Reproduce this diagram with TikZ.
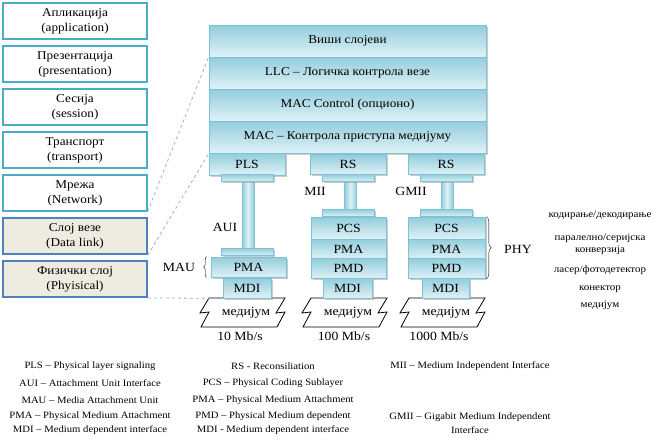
\documentclass[tikz,border=0pt]{standalone}
\usepackage{fontspec}
\setmainfont{Liberation Serif}[FakeStretch=1.1]
\usetikzlibrary{decorations.pathreplacing,shadows,backgrounds}
\definecolor{osiline}{RGB}{75,172,198}
\definecolor{osiblue}{RGB}{79,129,189}
\definecolor{osifill}{RGB}{238,236,225}
\definecolor{cyandark}{RGB}{146,205,220}
\definecolor{cyanlight}{RGB}{224,241,246}
\definecolor{cyanedge}{RGB}{125,195,214}
\definecolor{dashblue}{RGB}{149,179,215}

\begin{document}
\begin{tikzpicture}[x=1pt,y=-1pt,
  osi/.style={draw=osiline,line width=1.3pt,minimum width=144pt,minimum height=36pt,
    inner sep=0pt,align=center,font=\fontsize{12}{15}\selectfont},
  osidl/.style={osi,draw=osiblue,line width=1.9pt,fill=osifill},
  layer/.style={draw=cyanedge,line width=0.6pt,top color=cyandark,bottom color=cyanlight,
    inner sep=0pt,font=\fontsize{12}{14}\selectfont,
    drop shadow={shadow xshift=1.5pt,shadow yshift=-1.5pt,fill=black!40}},
  sublayer/.style={layer,minimum width=75pt,minimum height=20pt,font=\fontsize{12.5}{14}\selectfont},
  plate/.style={layer,minimum width=52pt,minimum height=7pt},
  pillar/.style={draw=cyanedge,line width=0.6pt,left color=cyandark,right color=cyandark,
    middle color=cyanlight,minimum width=12pt,inner sep=0pt},
  medium/.style={draw=black,line width=0.8pt,fill=white},
  lbl/.style={font=\fontsize{12.5}{14}\selectfont,inner sep=0pt},
  note/.style={font=\fontsize{10}{12}\selectfont,inner sep=0pt},
  legend/.style={font=\fontsize{9.7}{14}\selectfont,inner sep=0pt,align=center},
  link/.style={draw=dashblue,dashed,line width=0.8pt}]
\useasboundingbox (0,0) rectangle (665,447);

% OSI model
\node[osi] (apl) at (75,21) {Апликација\\(application)};
\node[osi] (prez) at (75,64) {Презентација\\(presentation)};
\node[osi] (ses) at (75,107) {Сесија\\(session)};
\node[osi] (trans) at (75,150) {Транспорт\\(transport)};
\node[osi] (mreza) at (75,193) {Мрежа\\(Network)};
\node[osidl] (veze) at (75,236) {Слој везе\\(Data link)};
\node[osidl] (fiz) at (75,279) {Физички слој\\(Phyisical)};

% upper layers
\node[layer,minimum width=277pt,minimum height=32pt] (visi) at (347.5,41) {Виши слојеви};
\node[layer,minimum width=277pt,minimum height=32pt] (llc) at (347.5,73) {LLC – Логичка контрола везе};
\node[layer,minimum width=277pt,minimum height=32pt] (mcc) at (347.5,105) {MAC Control (опционо)};
\node[layer,minimum width=277pt,minimum height=32pt] (mac) at (347.5,137) {MAC – Контрола приступа медијуму};

% 10 Mb/s
\node[pillar,minimum height=68pt] (aui) at (248,214.5) {};
\node[sublayer,minimum width=76pt,minimum height=22pt] (pls) at (247,164) {PLS};
\node[plate] (plA) at (247,178) {};
\node[plate] (pmA) at (247,252) {};
\node[sublayer] (pmaA) at (248.5,267) {PMA};
\node[sublayer,minimum width=48pt] (mdiA) at (247,288) {MDI};

% 100 Mb/s
\node[pillar,minimum height=29pt] (mii) at (350.5,195) {};
\node[sublayer,minimum width=76pt] (rsB) at (348,164.5) {RS};
\node[plate] (plB) at (348.5,178) {};
\node[plate] (pmB) at (348.5,213) {};
\node[sublayer,minimum height=22pt] (pcsB) at (348.5,228) {PCS};
\node[sublayer] (pmaB) at (348.5,249) {PMA};
\node[sublayer] (pmdB) at (348.5,268.5) {PMD};
\node[sublayer,minimum width=49pt] (mdiB) at (347.5,288) {MDI};

% 1000 Mb/s
\node[pillar,minimum height=29pt] (gmii) at (447,195) {};
\node[sublayer,minimum width=76pt] (rsC) at (446,164.5) {RS};
\node[plate] (plC) at (446,178) {};
\node[plate] (pmC) at (446,213) {};
\node[sublayer,minimum width=77pt,minimum height=22pt] (pcsC) at (446.5,228) {PCS};
\node[sublayer,minimum width=77pt] (pmaC) at (446.5,249) {PMA};
\node[sublayer,minimum width=77pt] (pmdC) at (446.5,268.5) {PMD};
\node[sublayer,minimum width=47pt] (mdiC) at (445.5,288) {MDI};

% media
\node[lbl] (medA) at (246,313) {медијум};
\node[lbl] (medB) at (348,313) {медијум};
\node[lbl] (medC) at (446,313) {медијум};
\begin{scope}[on background layer]
\draw[medium] ([shift={(-37,-15)}]medA.center) -- ++(76,0) -- ++(-9,15) -- ++(9,-1) -- ++(-8,15)
  -- ++(-76,0) -- ++(8,-15) -- ++(-9,1) -- cycle;
\draw[medium] ([shift={(-37,-15)}]medB.center) -- ++(76,0) -- ++(-9,15) -- ++(9,-1) -- ++(-8,15)
  -- ++(-76,0) -- ++(8,-15) -- ++(-9,1) -- cycle;
\draw[medium] ([shift={(-37,-15)}]medC.center) -- ++(76,0) -- ++(-9,15) -- ++(9,-1) -- ++(-8,15)
  -- ++(-76,0) -- ++(8,-15) -- ++(-9,1) -- cycle;
\end{scope}
\node[lbl] (rateA) at (240,336) {10 Mb/s};
\node[lbl] (rateB) at (344,336) {100 Mb/s};
\node[lbl] (rateC) at (439,336) {1000 Mb/s};

% interface labels
\node[lbl] (auiL) at (225,227) {AUI};
\node[lbl] (miiL) at (315,191) {MII};
\node[lbl] (gmiiL) at (411,191) {GMII};
\node[lbl] (mau) at (179,267) {MAU};
\node[lbl] (phy) at (518,249) {PHY};
\draw[decorate,decoration={brace,amplitude=3pt}] ([xshift=-4pt]pmaA.south west) -- ([xshift=-4pt]pmaA.north west);
\draw[decorate,decoration={brace,amplitude=5pt}] ([xshift=1pt]pcsC.north east) -- ([xshift=1pt]pmdC.south east);

% OSI to 802.3
\draw[link] (mreza.south east) -- (llc.north west);
\draw[link] (veze.south east) -- (mac.south west);
\draw[link] (fiz.south east) -- (mdiA.south west);

% functions
\node[note] (kod) at (600,215) {кодирање/декодирање};
\node[note,align=center] (par) at (600,244.5) {паралелно/серијска\\конверзија};
\node[note] (las) at (600,270) {ласер/фотодетектор};
\node[note] (kon) at (600,289) {конектор};
\node[note] (med) at (600,305) {медијум};

% abbreviations
\node[legend] (pls1) at (90,366) {PLS – Physical layer signaling};
\node[legend] (aui1) at (90,383) {AUI – Attachment Unit Interface};
\node[legend] (mau1) at (90,400) {MAU – Media Attachment Unit};
\node[legend] (pma1) at (90,416) {PMA – Physical Medium Attachment};
\node[legend] (mdi1) at (90,430) {MDI – Medium dependent interface};
\node[legend] (rs2) at (273,366) {RS - Reconsiliation};
\node[legend] (pcs2) at (273,383) {PCS – Physical Coding Sublayer};
\node[legend] (pma2) at (273,400) {PMA – Physical Medium Attachment};
\node[legend] (pmd2) at (273,416) {PMD – Physical Medium dependent};
\node[legend] (mdi2) at (273,430) {MDI - Medium dependent interface};
\node[legend] (mii3) at (470,366) {MII – Medium Independent Interface};
\node[legend] (gmii3) at (470,423) {GMII – Gigabit Medium Independent\\Interface};
\end{tikzpicture}
\end{document}
